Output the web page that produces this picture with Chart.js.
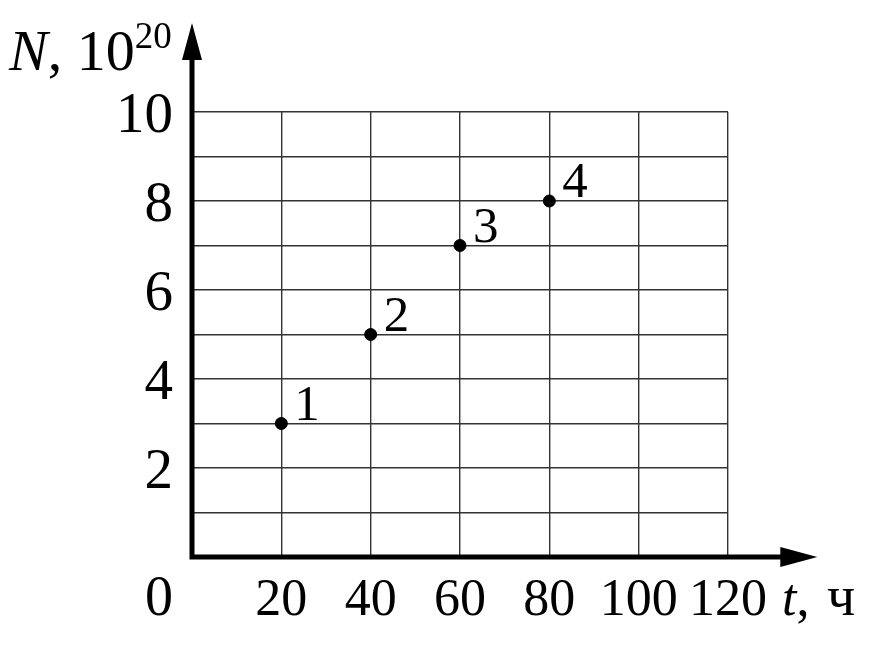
<!DOCTYPE html>
<html>
<head>
<meta charset="utf-8">
<script src="https://cdn.jsdelivr.net/npm/chart.js@4/dist/chart.umd.min.js"></script>
<style>
  html, body { margin: 0; padding: 0; background: #fff; }
  #wrap { width: 876px; height: 650px; }
</style>
</head>
<body>
<div id="wrap"><canvas id="chart" width="876" height="650"></canvas></div>
<script>
const xValues = [20, 40, 60, 80];
const yValues = [3, 5, 7, 8];
const pointNames = ['1', '2', '3', '4'];
const xTickLabels = [20, 40, 60, 80, 100, 120];
const yTickLabels = [2, 4, 6, 8, 10];

const FONT = '"Liberation Serif", "Times New Roman", serif';

function arrowHead(ctx, tipX, tipY, dirX, dirY) {
  // filled triangle, 37px long, 10px half width
  const len = 37, half = 10;
  const bx = tipX - dirX * len, by = tipY - dirY * len;
  ctx.beginPath();
  ctx.moveTo(tipX, tipY);
  ctx.lineTo(bx + dirY * half, by - dirX * half);
  ctx.lineTo(bx - dirY * half, by + dirX * half);
  ctx.closePath();
  ctx.fill();
}

const decorations = {
  id: 'decorations',
  afterDraw(chart) {
    const ctx = chart.ctx;
    const xs = chart.scales.x;
    const ys = chart.scales.y;
    const x0 = xs.getPixelForValue(0);
    const y0 = ys.getPixelForValue(0);

    ctx.save();
    ctx.fillStyle = '#000';
    ctx.strokeStyle = '#000';

    // axes with arrows
    const xTip = xs.getPixelForValue(140);
    const yTip = ys.getPixelForValue(12);
    ctx.lineWidth = 5;
    ctx.lineCap = 'square';
    ctx.beginPath();
    ctx.moveTo(x0, y0);
    ctx.lineTo(xTip - 30, y0);
    ctx.moveTo(x0, y0);
    ctx.lineTo(x0, yTip + 30);
    ctx.stroke();
    arrowHead(ctx, xTip, y0, 1, 0);
    arrowHead(ctx, x0, yTip, 0, -1);

    // y tick labels
    ctx.font = '57px ' + FONT;
    ctx.textAlign = 'right';
    ctx.textBaseline = 'middle';
    yTickLabels.forEach(v => {
      ctx.fillText(String(v), x0 - 19, ys.getPixelForValue(v) + 5);
    });

    // x tick labels
    ctx.font = '52px ' + FONT;
    ctx.textAlign = 'center';
    ctx.textBaseline = 'alphabetic';
    const base = y0 + 58;
    xTickLabels.forEach(v => {
      ctx.fillText(String(v), xs.getPixelForValue(v), base);
    });
    ctx.font = '56px ' + FONT;
    ctx.textAlign = 'right';
    ctx.fillText('0', x0 - 19, base);

    // x axis title
    const x120 = xs.getPixelForValue(120);
    ctx.textAlign = 'left';
    ctx.font = 'italic 52px ' + FONT;
    ctx.fillText('t', x120 + 54, base);
    const tw = ctx.measureText('t').width;
    ctx.font = '52px ' + FONT;
    ctx.fillText(',', x120 + 54 + tw, base);
    ctx.font = '56px ' + FONT;
    ctx.fillText('ч', x120 + 99, base);

    // y axis title
    ctx.font = 'italic 58px ' + FONT;
    ctx.fillText('N', 9, 70);
    let tx = 9 + ctx.measureText('N').width;
    ctx.font = '58px ' + FONT;
    ctx.fillText(', 10', tx, 70);
    tx += ctx.measureText(', 10').width;
    ctx.font = '37px ' + FONT;
    ctx.fillText('20', tx, 48);

    // point numbers
    ctx.font = '51px ' + FONT;
    xValues.forEach((v, i) => {
      const px = xs.getPixelForValue(v);
      const py = ys.getPixelForValue(yValues[i]);
      ctx.fillText(pointNames[i], px + 13, py - 4);
    });

    ctx.restore();
  }
};

new Chart(document.getElementById('chart'), {
  type: 'scatter',
  data: {
    datasets: [{
      data: xValues.map((x, i) => ({ x, y: yValues[i] })),
      backgroundColor: '#000',
      borderColor: '#000',
      pointRadius: 6,
      pointHoverRadius: 6
    }]
  },
  options: {
    responsive: false,
    animation: false,
    events: [],
    layout: { padding: { left: 192, top: 112, right: 148, bottom: 93 } },
    plugins: { legend: { display: false }, tooltip: { enabled: false } },
    scales: {
      x: {
        type: 'linear',
        min: 0,
        max: 120,
        ticks: { display: false, stepSize: 20 },
        grid: { color: '#333', lineWidth: 1.4, drawTicks: false },
        border: { display: false }
      },
      y: {
        type: 'linear',
        min: 0,
        max: 10,
        ticks: { display: false, stepSize: 1 },
        grid: { color: '#333', lineWidth: 1.4, drawTicks: false },
        border: { display: false }
      }
    }
  },
  plugins: [decorations]
});
</script>
</body>
</html>
